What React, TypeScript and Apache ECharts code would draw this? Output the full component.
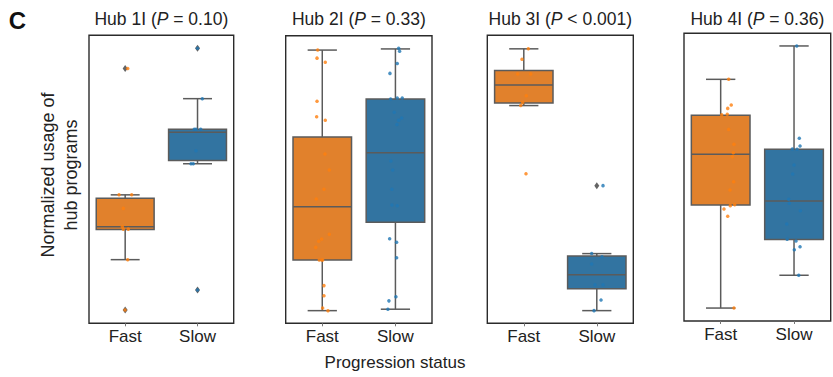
import React, { useEffect, useRef } from 'react';
import * as echarts from 'echarts';

const categories = ['Fast', 'Slow'];
const hubNames = ['Hub 1I', 'Hub 2I', 'Hub 3I', 'Hub 4I'];
const pLabels = [' = 0.10)', ' = 0.33)', ' < 0.001)', ' = 0.36)'];

// box stats: [lower whisker, Q1, median, Q3, upper whisker] (normalized usage, 0-100)
const hub1FastBox = [22.1, 32.6, 33.5, 43.4, 44.6];
const hub1SlowBox = [55.4, 56.5, 66.3, 67.4, 78.0];
const hub2FastBox = [4.4, 22.0, 40.5, 64.8, 95.0];
const hub2SlowBox = [4.9, 35.1, 59.3, 78.0, 95.4];
const hub3FastBox = [75.6, 76.5, 82.7, 87.8, 95.3];
const hub3SlowBox = [4.4, 12.0, 16.9, 23.4, 24.2];
const hub4FastBox = [4.5, 40.3, 58.0, 71.5, 84.0];
const hub4SlowBox = [15.9, 28.3, 41.7, 59.7, 95.6];

// outliers: [category index, value]
const hub1Outliers = [[0, 88.5], [0, 4.6], [1, 95.5], [1, 11.6]];
const hub2Outliers: number[][] = [];
const hub3Outliers = [[1, 47.8]];
const hub4Outliers: number[][] = [];

// jittered samples: [category position, value]
const hub1FastPts = [[0.035, 88.5], [-0.085, 44.6], [0.09, 44.6], [-0.026, 39.9], [-0.04, 33.5], [-0.026, 32.7], [0.043, 32.7], [0.035, 22.1], [-0.002, 4.6]];
const hub1SlowPts = [[1.0, 95.5], [1.066, 78.0], [0.955, 67.4], [0.979, 67.4], [1.044, 67.4], [0.979, 59.9], [0.91, 55.4], [0.941, 55.4], [1.0, 11.6]];
const hub2FastPts = [[-0.063, 95.0], [-0.072, 92.2], [0.041, 90.8], [-0.072, 77.2], [-0.077, 71.8], [0.041, 70.6], [0.037, 58.9], [0.096, 53.3], [0.023, 46.6], [-0.082, 43.2], [0.096, 31.0], [-0.008, 29.3], [-0.049, 28.5], [-0.09, 26.4], [-0.041, 22.0], [-0.008, 22.0], [0.005, 22.0], [0.023, 13.1], [0.023, 9.6], [0.005, 5.3], [0.078, 4.4]];
const hub2SlowPts = [[1.044, 95.6], [1.057, 94.6], [1.025, 90.3], [0.925, 86.9], [0.934, 78.0], [1.025, 78.3], [1.093, 78.3], [0.984, 73.4], [1.085, 71.4], [1.044, 70.6], [1.021, 69.1], [0.938, 56.4], [0.962, 53.3], [0.952, 46.6], [0.952, 41.1], [1.025, 40.9], [0.921, 29.4], [1.016, 28.2], [1.016, 22.8], [1.007, 9.2], [0.911, 7.8], [0.897, 4.9]];
const hub3FastPts = [[0.062, 95.3], [-0.025, 91.7], [-0.084, 86.6], [0.095, 86.6], [0.034, 79.0], [-0.015, 76.6], [-0.042, 75.6], [0.03, 51.9]];
const hub3SlowPts = [[1.085, 47.8], [0.93, 24.2], [1.071, 23.1], [0.93, 20.6], [0.975, 13.4], [1.085, 13.4], [1.058, 8.1], [0.962, 4.4]];
const hub4FastPts = [[0.109, 84.0], [0.144, 75.1], [0.096, 73.9], [0.014, 71.7], [0.09, 71.9], [0.109, 66.6], [0.181, 61.4], [0.172, 58.5], [0.158, 57.1], [0.177, 48.4], [0.127, 45.5], [0.131, 40.1], [0.191, 40.4], [0.045, 38.9], [0.096, 36.4], [0.181, 4.5]];
const hub4SlowPts = [[1.037, 95.6], [1.072, 63.5], [1.082, 60.8], [0.977, 59.8], [1.041, 59.7], [1.0, 54.2], [0.982, 51.1], [0.927, 42.3], [0.936, 40.9], [1.086, 38.3], [0.901, 33.7], [0.906, 28.4], [1.027, 27.8], [1.082, 25.8], [1.004, 24.8], [1.064, 15.9]];

const panelsData = [
  { box: [hub1FastBox, hub1SlowBox], outliers: hub1Outliers, pts: [hub1FastPts, hub1SlowPts] },
  { box: [hub2FastBox, hub2SlowBox], outliers: hub2Outliers, pts: [hub2FastPts, hub2SlowPts] },
  { box: [hub3FastBox, hub3SlowBox], outliers: hub3Outliers, pts: [hub3FastPts, hub3SlowPts] },
  { box: [hub4FastBox, hub4SlowBox], outliers: hub4Outliers, pts: [hub4FastPts, hub4SlowPts] },
];

const layout = [
  { left: 89, top: 35.3, width: 144.7, height: 288 },
  { left: 285.7, top: 35.7, width: 146.3, height: 287.6 },
  { left: 487.3, top: 35.3, width: 146, height: 288 },
  { left: 684, top: 33.3, width: 146.7, height: 287.7 },
];

const FONT = "'Liberation Sans', Arial, Helvetica, sans-serif";
const BOX_COLORS = ['#e1812c', '#3274a1'];
const DOT_COLORS = ['#ff7f0e', '#1f77b4'];
const EDGE = '#5b5b5b';

export default function App() {
  const ref = useRef<HTMLDivElement>(null);
  useEffect(() => {
    document.body.style.margin = '0';
    const chart = echarts.init(ref.current!, undefined, { renderer: 'svg' });
    const grid: any[] = [];
    const xAxis: any[] = [];
    const yAxis: any[] = [];
    const series: any[] = [];
    const graphic: any[] = [];

    layout.forEach((g, i) => {
      grid.push({ left: g.left, top: g.top, width: g.width, height: g.height, show: true, borderColor: '#2b2b2b', borderWidth: 1.4, backgroundColor: '#fff', containLabel: false });
      xAxis.push({
        type: 'category', gridIndex: i, data: categories,
        axisLine: { show: false },
        axisTick: { show: true, alignWithLabel: true, length: 3, lineStyle: { color: '#777', width: 1 } },
        axisLabel: { color: '#222', fontSize: 17, fontFamily: FONT, margin: 5 },
        splitLine: { show: false },
      });
      xAxis.push({ type: 'value', gridIndex: i, min: -0.5, max: 1.5, show: false, splitLine: { show: false } });
      yAxis.push({ type: 'value', gridIndex: i, min: 0, max: 100, show: false, splitLine: { show: false } });

      const pd = panelsData[i];
      series.push({
        type: 'custom',
        xAxisIndex: 2 * i,
        yAxisIndex: i,
        data: pd.box.map((b, k) => [k, ...b]),
        encode: { x: 0, y: [1, 2, 3, 4, 5] },
        z: 2,
        renderItem: (params: any, api: any) => {
          const idx = api.value(0);
          const lo = api.coord([idx, api.value(1)]);
          const q1 = api.coord([idx, api.value(2)]);
          const md = api.coord([idx, api.value(3)]);
          const q3 = api.coord([idx, api.value(4)]);
          const hi = api.coord([idx, api.value(5)]);
          const band = api.size([1, 0])[0];
          const bw = band * 0.8;
          const cw = band * 0.4;
          const cx = lo[0];
          const ls = { stroke: EDGE, lineWidth: 1.5, fill: null };
          return {
            type: 'group',
            children: [
              { type: 'line', shape: { x1: cx, y1: q1[1], x2: cx, y2: lo[1] }, style: ls },
              { type: 'line', shape: { x1: cx, y1: q3[1], x2: cx, y2: hi[1] }, style: ls },
              { type: 'line', shape: { x1: cx - cw / 2, y1: lo[1], x2: cx + cw / 2, y2: lo[1] }, style: ls },
              { type: 'line', shape: { x1: cx - cw / 2, y1: hi[1], x2: cx + cw / 2, y2: hi[1] }, style: ls },
              { type: 'rect', shape: { x: cx - bw / 2, y: q3[1], width: bw, height: q1[1] - q3[1] }, style: { fill: BOX_COLORS[idx], stroke: EDGE, lineWidth: 1.5 } },
              { type: 'line', shape: { x1: cx - bw / 2, y1: md[1], x2: cx + bw / 2, y2: md[1] }, style: ls },
            ],
          };
        },
      });
      if (pd.outliers.length) {
        series.push({
          type: 'scatter', xAxisIndex: 2 * i + 1, yAxisIndex: i, z: 3,
          data: pd.outliers, symbol: 'diamond', symbolSize: [5, 7],
          itemStyle: { color: '#3d3d3d' },
        });
      }
      pd.pts.forEach((pts, k) => {
        series.push({
          type: 'scatter', xAxisIndex: 2 * i + 1, yAxisIndex: i, z: 4,
          data: pts, symbol: 'circle', symbolSize: 3.5,
          itemStyle: { color: DOT_COLORS[k] },
        });
      });

      graphic.push({
        type: 'text', x: g.left + g.width / 2, y: 19,
        style: {
          text: `{n|${hubNames[i]} (}{i|P}{n|${pLabels[i]}}`,
          align: 'center', verticalAlign: 'middle',
          rich: {
            n: { fontSize: 17.5, fontFamily: FONT, fill: '#222' },
            i: { fontSize: 17.5, fontFamily: FONT, fontStyle: 'italic', fill: '#222' },
          },
        },
      });
    });

    graphic.push({
      type: 'text', x: 17.5, y: 20,
      style: { text: 'C', fontSize: 24, fontWeight: 'bold', fontFamily: FONT, fill: '#111', align: 'center', verticalAlign: 'middle' },
    });
    graphic.push({
      type: 'text', x: 59, y: 175, rotation: Math.PI / 2,
      style: { text: 'Normalized usage of\nhub programs', fontSize: 18, lineHeight: 23, fontFamily: FONT, fill: '#222', align: 'center', verticalAlign: 'middle' },
    });
    graphic.push({
      type: 'text', x: 395, y: 362,
      style: { text: 'Progression status', fontSize: 17, fontFamily: FONT, fill: '#222', align: 'center', verticalAlign: 'middle' },
    });

    chart.setOption({ animation: false, backgroundColor: '#fff', grid, xAxis, yAxis, series, graphic });
    return () => chart.dispose();
  }, []);
  return <div ref={ref} style={{ width: 833, height: 377 }} />;
}
